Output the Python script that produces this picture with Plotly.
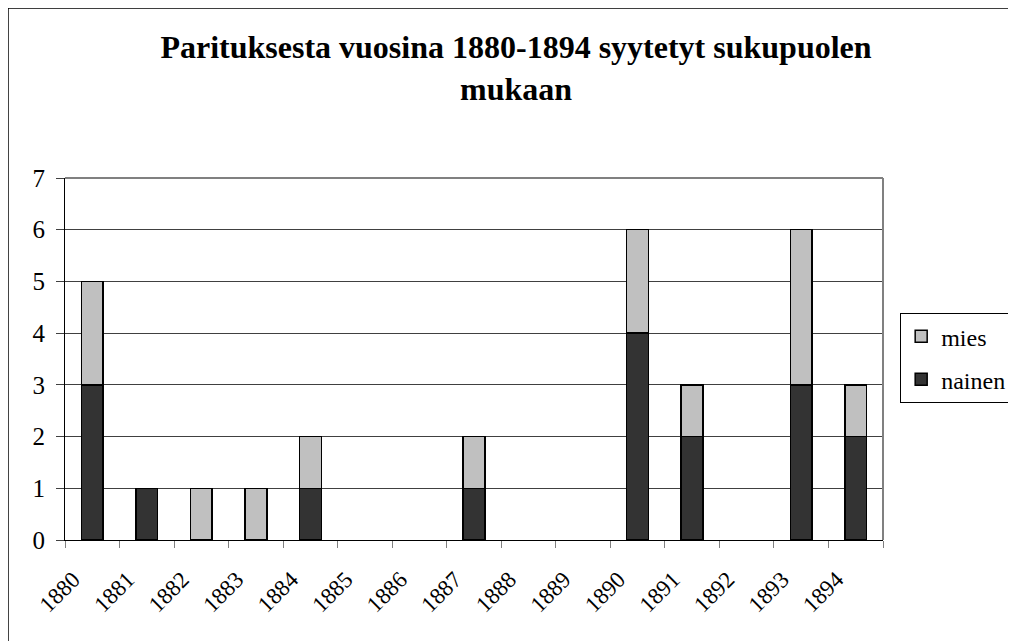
import plotly.graph_objects as go

years = [str(y) for y in range(1880, 1895)]
nainen = [3, 1, 0, 0, 1, 0, 0, 1, 0, 0, 4, 2, 0, 3, 2]
mies = [2, 0, 1, 1, 1, 0, 0, 1, 0, 0, 2, 1, 0, 3, 1]
title_text = "<b>Parituksesta vuosina 1880-1894 syytetyt sukupuolen<br>mukaan</b>"

FONT = "Times New Roman, Liberation Serif, DejaVu Serif, serif"


def nz(vals):
    return [v if v else None for v in vals]


fig = go.Figure()
fig.add_trace(go.Bar(x=years, y=nz(nainen), name="nainen", width=0.4, legendgroup="n",
                     legendrank=2,
                     marker=dict(color="#333333", line=dict(color="black", width=1.5))))
fig.add_trace(go.Bar(x=years, y=nz(mies), name="mies", width=0.4, legendgroup="m",
                     legendrank=1,
                     marker=dict(color="#C0C0C0", line=dict(color="black", width=1.5))))

fig.update_layout(
    width=1016, height=641,
    barmode="stack",
    paper_bgcolor="white", plot_bgcolor="white",
    margin=dict(l=57, r=141, t=170, b=109, autoexpand=False),
    font=dict(family=FONT, color="black"),
    title=dict(text=title_text, x=0.5, xanchor="center", y=0.922, yanchor="top",
               font=dict(family=FONT, size=32, color="black")),
    legend=dict(x=1.021, xanchor="left", y=0.627, yanchor="top",
                traceorder="grouped", tracegroupgap=9,
                bordercolor="black", borderwidth=1,
                font=dict(family=FONT, size=24), bgcolor="white"),
    xaxis=dict(type="category", tickson="boundaries", ticks="outside", ticklen=7,
               tickcolor="#808080", tickangle=-45, showgrid=False,
               showline=True, linecolor="black", linewidth=1,
               tickfont=dict(family=FONT, size=23), ticklabelshift=-19,
               ticklabelstandoff=16),
    yaxis=dict(range=[0, 7], dtick=1, ticks="outside", ticklen=8, tickcolor="#404040",
               showgrid=True, gridcolor="#404040", gridwidth=1, zeroline=False,
               showline=True, linecolor="black", linewidth=1,
               tickfont=dict(family=FONT, size=25), ticklabelstandoff=6),
    shapes=[
        dict(type="line", xref="paper", yref="paper", x0=0, x1=1, y0=1, y1=1,
             line=dict(color="#808080", width=2)),
        dict(type="line", xref="paper", yref="paper", x0=1, x1=1, y0=0, y1=1,
             line=dict(color="#808080", width=2)),
        dict(type="rect", xref="paper", yref="paper", x0=-0.0697, x1=1.5, y0=-0.5, y1=1.4696,
             line=dict(color="black", width=1.5)),
    ],
)

fig.write_html("out.html")
